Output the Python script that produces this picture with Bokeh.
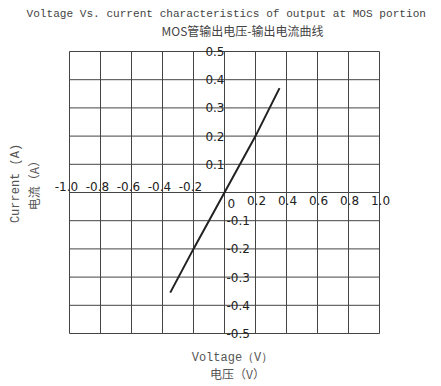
from bokeh.plotting import figure
from bokeh.models import Range1d
from bokeh.core.properties import value
from bokeh.embed import file_html
from bokeh.resources import INLINE
import math

# ---- data ----
title_en = "Voltage Vs. current characteristics of output at MOS portion"
title_zh = "MOS管输出电压-输出电流曲线"
xlabel_en = "Voltage（V）"
xlabel_zh = "电压（V）"
ylabel_en = "Current (A)"
ylabel_zh = "电流（A）"

x_ticks = [-1.0, -0.8, -0.6, -0.4, -0.2, 0.0, 0.2, 0.4, 0.6, 0.8, 1.0]
y_ticks = [-0.5, -0.4, -0.3, -0.2, -0.1, 0.0, 0.1, 0.2, 0.3, 0.4, 0.5]
x_neg_labels = ["-1.0", "-0.8", "-0.6", "-0.4", "-0.2"]
x_neg_vals = [-1.0, -0.8, -0.6, -0.4, -0.2]
x_pos_labels = ["0.2", "0.4", "0.6", "0.8", "1.0"]
x_pos_vals = [0.2, 0.4, 0.6, 0.8, 1.0]
y_pos_labels = ["0.1", "0.2", "0.3", "0.4", "0.5"]
y_pos_vals = [0.1, 0.2, 0.3, 0.4, 0.5]
y_neg_labels = ["-0.1", "-0.2", "-0.3", "-0.4", "-0.5"]
y_neg_vals = [-0.1, -0.2, -0.3, -0.4, -0.5]

voltage = [-0.35, -0.2, 0.0, 0.2, 0.355]
current = [-0.355, -0.2, 0.0, 0.2, 0.37]

# ---- geometry: the grid box occupies page pixels x 69..379, y 51..333 ----
W, H = 440, 385
GX0, GX1, GY0, GY1 = 69.0, 379.0, 51.0, 333.0
XMIN, XMAX = x_ticks[0], x_ticks[-1]
YMIN, YMAX = y_ticks[0], y_ticks[-1]
sx = (GX1 - GX0) / (XMAX - XMIN)
sy = (GY1 - GY0) / (YMAX - YMIN)

def px_x(px):
    return XMIN + (px - GX0) / sx

def px_y(py):
    return YMAX - (py - GY0) / sy

p = figure(width=W, height=H, output_backend="svg", toolbar_location=None,
           x_range=Range1d(px_x(0), px_x(W)), y_range=Range1d(px_y(H), px_y(0)),
           x_axis_location=None, y_axis_location=None, title=None,
           min_border=0, min_border_left=0, min_border_right=0,
           min_border_top=0, min_border_bottom=0)
p.outline_line_color = None
p.grid.visible = False
p.background_fill_color = "white"
p.border_fill_color = "white"

grid_color = "#444"
# vertical grid lines
p.segment(x0=x_ticks, y0=[YMIN] * len(x_ticks), x1=x_ticks, y1=[YMAX] * len(x_ticks),
          line_color=grid_color, line_width=1)
# horizontal grid lines
p.segment(x0=[XMIN] * len(y_ticks), y0=y_ticks, x1=[XMAX] * len(y_ticks), y1=y_ticks,
          line_color=grid_color, line_width=1)

p.line(voltage, current, line_color="#222", line_width=2)

tick_font = value("DejaVu Sans")
tick_color = "#222"
ts = "12px"

p.text(x=x_neg_vals, y=[0.0] * len(x_neg_vals), text=x_neg_labels,
       x_offset=-3, y_offset=-2, text_align="center", text_baseline="bottom",
       text_font=tick_font, text_font_size=ts, text_color=tick_color)
p.text(x=x_pos_vals, y=[0.0] * len(x_pos_vals), text=x_pos_labels,
       x_offset=1, y_offset=3, text_align="center", text_baseline="top",
       text_font=tick_font, text_font_size=ts, text_color=tick_color)
p.text(x=[0.0] * len(y_pos_vals), y=y_pos_vals, text=y_pos_labels,
       x_offset=0, y_offset=0, text_align="right", text_baseline="middle",
       text_font=tick_font, text_font_size=ts, text_color=tick_color)
p.text(x=[0.0] * len(y_neg_vals), y=y_neg_vals, text=y_neg_labels,
       x_offset=2, y_offset=0, text_align="left", text_baseline="middle",
       text_font=tick_font, text_font_size=ts, text_color=tick_color)
p.text(x=[0.0], y=[0.0], text=["0"], x_offset=3, y_offset=6,
       text_align="left", text_baseline="top",
       text_font=tick_font, text_font_size=ts, text_color=tick_color)

# ---- titles ----
p.text(x=[px_x(26)], y=[px_y(13)], text=[title_en], text_align="left",
       text_baseline="middle", text_font=value("Liberation Mono"),
       text_font_size="11.1px", text_color="#444")
p.text(x=[px_x(242)], y=[px_y(30)], text=[title_zh], text_align="center",
       text_baseline="middle", text_font=value("Noto Sans CJK SC"),
       text_font_size="12px", text_color="#444")
p.text(x=[px_x(232)], y=[px_y(357)], text=[xlabel_en], text_align="center",
       text_baseline="middle", text_font=value("Liberation Mono"),
       text_font_size="12px", text_color="#555")
p.text(x=[px_x(237)], y=[px_y(373)], text=[xlabel_zh], text_align="center",
       text_baseline="middle", text_font=value("Noto Sans CJK SC"),
       text_font_size="12px", text_color="#555")
p.text(x=[px_x(15)], y=[px_y(183)], text=[ylabel_en], text_align="center",
       text_baseline="middle", text_font=value("Liberation Mono"),
       text_font_size="12px", text_color="#555", angle=math.pi / 2)
p.text(x=[px_x(33)], y=[px_y(182)], text=[ylabel_zh], text_align="center",
       text_baseline="middle", text_font=value("Noto Sans CJK SC"),
       text_font_size="12px", text_color="#555", angle=math.pi / 2)

open("out.html", "w").write(file_html(p, INLINE))
